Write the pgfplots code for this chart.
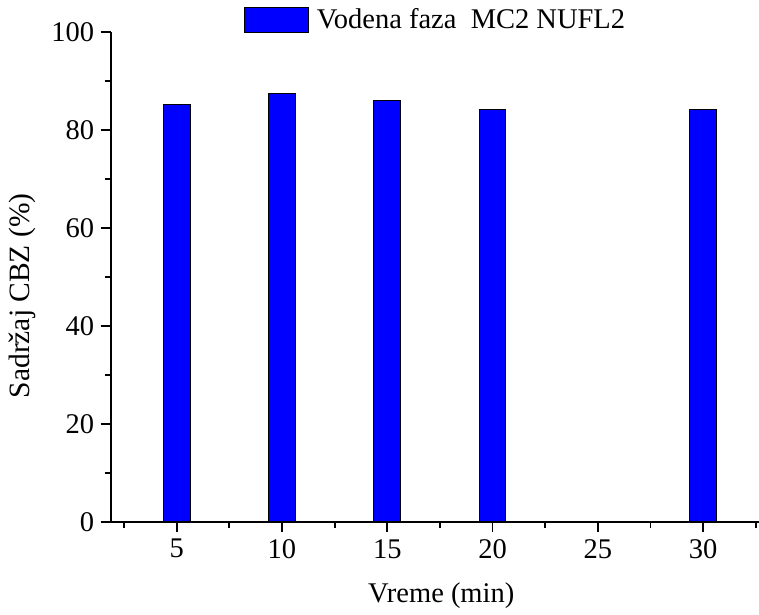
\documentclass[border=0pt]{standalone}
\usepackage{fontspec}
\setmainfont{Liberation Serif}
\usepackage{pgfplots}
\pgfplotsset{compat=1.18}
\begin{document}
\begin{tikzpicture}
\useasboundingbox (-110.7bp,-93.3bp) rectangle (648.3bp,521.7bp);
\begin{axis}[
  at={(0,0)}, anchor=south west,
  scale only axis, width=648.3bp, height=490bp,
  xmin=1.866, xmax=32.65, ymin=0, ymax=100,
  axis x line*=bottom, axis y line*=left,
  x axis line style={black, line width=1.8bp, shorten <=-10bp},
  y axis line style={black, line width=1.8bp},
  xtick={5,10,...,30}, ytick={0,20,...,100},
  minor xtick={2.5,7.5,...,32.5}, minor ytick={10,30,...,90},
  tick align=outside,
  major tick length=10bp, minor tick length=6bp,
  every tick/.append style={black, line width=1.8bp},
  tick label style={font=\fontsize{28.5bp}{33bp}\selectfont},
  xticklabel style={yshift=-4bp},
  yticklabel style={xshift=-3bp},
  /pgf/number format/assume math mode=true,
  xlabel={Vreme (min)}, ylabel={Sadržaj CBZ (\%)},
  every axis x label/.style={at={(axis description cs:0.5098,-0.1659)}, anchor=base, font=\fontsize{28.5bp}{33bp}\selectfont},
  every axis y label/.style={at={(axis description cs:-0.12525,0.461)}, anchor=base, rotate=90, font=\fontsize{29.5bp}{33bp}\selectfont},
  legend image code/.code={\draw[black, fill=blue, line width=1bp] (0bp,-4bp) rectangle (64bp,21bp); \path (72bp,0bp);},
  legend style={draw=none, fill=none, inner sep=0pt, outer sep=0pt, at={(axis description cs:0.2056,1.0065)}, anchor=base west, nodes={inner sep=0pt, anchor=base west, font=\fontsize{28.5bp}{33bp}\selectfont}},
]
\addplot[ybar, fill=blue, draw=black, line width=1bp, bar width=1.27] coordinates {(5,85.1) (10,87.3) (15,85.9) (20,84.2) (30,84.1)};
\addlegendentry{Vodena faza\ \ MC2 NUFL2}
\end{axis}
\end{tikzpicture}
\end{document}
